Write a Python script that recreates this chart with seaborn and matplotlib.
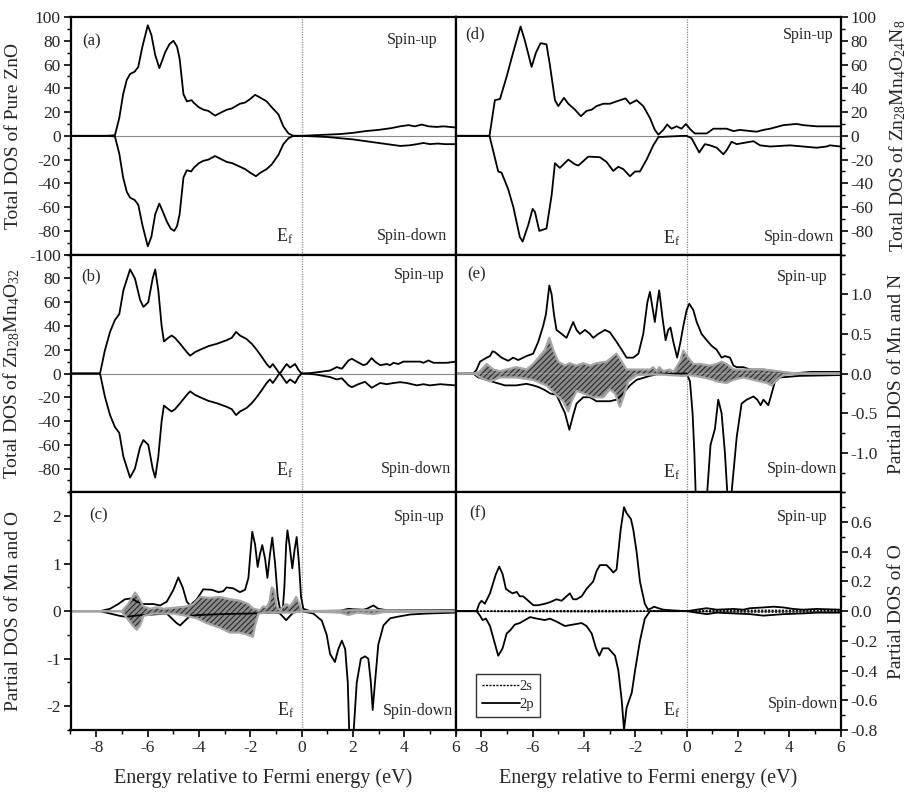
import numpy as np
import matplotlib
matplotlib.use("Agg")
import matplotlib.pyplot as plt
from matplotlib.ticker import MultipleLocator
from matplotlib.lines import Line2D
import seaborn as sns

# ---------------- data ----------------
# (a) Total DOS of pure ZnO
a_up_E = [-9, -7.6, -7.27, -7.1, -6.95, -6.81, -6.68, -6.5, -6.36, -6.2, -5.99, -5.85, -5.7, -5.54, -5.4, -5.32, -5.15, -4.99, -4.85, -4.75, -4.6, -4.47, -4.28, -4.21, -4.0, -3.82, -3.63, -3.37, -3.1, -2.91, -2.72, -2.4, -2.2, -2.0, -1.81, -1.68, -1.36, -1.16, -0.9, -0.71, -0.51, -0.32, 0, 0.5, 1.0, 1.5, 2.0, 2.5, 3.0, 3.5, 3.84, 4.16, 4.42, 4.68, 4.94, 5.27, 5.53, 6.0]
a_up = [0, 0, 0.5, 15, 35, 47, 52, 54, 58, 75, 93, 85, 68, 57, 65, 70, 77, 80, 75, 65, 35, 29, 30, 28, 24, 22, 21, 17, 20, 22, 23, 27, 28, 31, 34.5, 33, 29, 24, 18, 8, 2, 0, 0, 0.5, 1, 1.5, 2.5, 4, 5, 6.5, 8, 9, 8, 9.5, 8, 7.5, 8, 7]
a_dn_E = [-9, -7.6, -7.27, -7.1, -6.95, -6.81, -6.68, -6.5, -6.36, -6.2, -5.99, -5.85, -5.7, -5.54, -5.4, -5.25, -5.1, -4.96, -4.85, -4.75, -4.6, -4.47, -4.3, -4.2, -4.0, -3.82, -3.63, -3.37, -3.1, -2.91, -2.7, -2.4, -2.2, -2.0, -1.78, -1.6, -1.36, -1.16, -0.9, -0.71, -0.51, -0.32, 0, 0.5, 1.0, 1.5, 2.0, 2.5, 3.0, 3.5, 3.84, 4.2, 4.5, 4.75, 5.0, 5.3, 5.6, 6.0]
a_dn = [0, 0, -0.5, -15, -35, -47, -52, -54, -58, -75, -93, -85, -66, -57, -64, -72, -78, -80, -76, -66, -35, -29, -30, -27, -23, -21, -20, -17, -20, -22, -23, -26, -28, -31, -34, -31, -28, -24, -16, -7, -2, 0, 0, -0.5, -1, -2, -3, -4.5, -6, -7.5, -8.5, -8, -7, -6, -7, -6.5, -7, -7]

# (b) Total DOS of Zn28Mn4O32
b_up_E = [-9, -7.85, -7.66, -7.46, -7.27, -7.1, -6.94, -6.68, -6.49, -6.29, -6.16, -5.97, -5.8, -5.7, -5.58, -5.45, -5.36, -5.19, -5.06, -4.93, -4.73, -4.47, -4.34, -4.15, -3.95, -3.63, -3.3, -2.92, -2.72, -2.55, -2.4, -2.14, -1.94, -1.75, -1.55, -1.36, -1.23, -1.12, -0.99, -0.86, -0.84, -0.68, -0.58, -0.45, -0.25, -0.12, 0, 0.2, 0.59, 1.11, 1.37, 1.57, 1.83, 1.96, 2.15, 2.41, 2.54, 2.73, 2.86, 3.06, 3.32, 3.45, 3.58, 3.77, 3.97, 4.62, 4.75, 4.94, 5.14, 5.66, 6.0]
b_up = [0, 0, 19.5, 35, 45, 50, 70, 87.6, 80, 62, 56, 60, 80, 87.6, 70, 40, 27, 30, 32, 30, 25, 18, 15, 18, 20, 23, 25, 28, 30, 35, 32, 29, 25, 20, 14, 8, 5, 8, 4, 0, 0, 5, 8, 5, 8, 3, 0, 0, 1, 2.5, 5.4, 4, 11, 12.4, 10, 7, 8, 13, 10, 7, 8, 7, 9, 8, 10, 10, 9, 11, 9, 9, 10]
b_dn_E = [-9, -7.85, -7.66, -7.46, -7.27, -7.1, -6.94, -6.68, -6.49, -6.29, -6.16, -5.97, -5.8, -5.7, -5.58, -5.45, -5.36, -5.19, -5.06, -4.93, -4.73, -4.47, -4.34, -4.15, -3.95, -3.63, -3.3, -2.92, -2.72, -2.55, -2.4, -2.14, -1.94, -1.75, -1.55, -1.36, -1.23, -1.12, -0.99, -0.86, -0.84, -0.68, -0.58, -0.45, -0.25, -0.12, 0, 0.2, 0.59, 1.11, 1.37, 1.57, 1.83, 1.96, 2.21, 2.47, 2.73, 3.06, 3.32, 3.58, 3.84, 4.1, 4.49, 4.75, 5.0, 5.4, 6.0]
b_dn = [0, 0, -19.5, -35, -45, -50, -70, -87.6, -80, -62, -56, -60, -80, -87.6, -70, -40, -27, -30, -32, -30, -25, -18, -15, -18, -20, -23, -25, -28, -30, -35, -32, -29, -25, -20, -14, -8, -5, -8, -4, 0, 0, -5, -8, -5, -8, -3, 0, 0, -1, -3, -5, -4, -10, -11.5, -9, -7, -12, -8, -9, -8, -7.3, -8, -10, -9, -10, -9, -10]

# (c) Partial DOS of Mn and O
c_up_E = [-9, -7.85, -7.46, -7.14, -6.88, -6.62, -6.42, -6.16, -5.77, -5.51, -5.25, -4.99, -4.8, -4.63, -4.47, -4.34, -4.08, -3.83, -3.5, -3.24, -3.05, -2.92, -2.66, -2.4, -2.2, -2.07, -1.98, -1.92, -1.81, -1.71, -1.62, -1.53, -1.42, -1.33, -1.23, -1.14, -1.03, -0.93, -0.84, -0.73, -0.67, -0.6, -0.55, -0.47, -0.36, -0.27, -0.19, -0.1, -0.02, 0.07, 0.33, 1.5, 1.83, 2.0, 2.41, 2.54, 2.8, 2.99, 3.32, 6.0]
c_up = [0, 0, 0.05, 0.15, 0.25, 0.27, 0.2, 0.15, 0.15, 0.12, 0.2, 0.45, 0.71, 0.5, 0.2, 0.12, 0.25, 0.46, 0.45, 0.4, 0.42, 0.5, 0.48, 0.4, 0.45, 0.7, 1.3, 1.67, 1.4, 0.93, 1.2, 1.39, 1.1, 0.7, 1.2, 1.55, 1.0, 0.3, 0.05, 0.05, 0.5, 1.4, 1.7, 1.4, 0.9, 1.3, 1.56, 1.0, 0.3, 0.05, 0, 0.01, 0.05, 0.04, 0.03, 0.05, 0.12, 0.05, 0.02, 0.02]
c_dn_E = [-9, -7.85, -7.46, -7.07, -6.81, -6.55, -6.2, -5.77, -5.25, -4.87, -4.73, -4.54, -4.34, -4.0, -3.0, -2.0, -1.5, -1.0, -0.84, -0.6, -0.45, -0.32, 0.0, 0.46, 0.79, 0.98, 1.11, 1.3, 1.43, 1.57, 1.7, 1.8, 1.86, 2.02, 2.15, 2.31, 2.47, 2.6, 2.7, 2.77, 2.86, 2.99, 3.19, 3.45, 3.71, 4.23, 4.88, 6.0]
c_dn = [0, 0, -0.05, -0.1, -0.12, -0.1, -0.08, -0.07, -0.05, -0.25, -0.3, -0.2, -0.1, -0.08, -0.06, -0.05, -0.04, -0.03, -0.05, -0.19, -0.1, -0.03, 0, -0.05, -0.2, -0.5, -0.9, -1.07, -0.8, -0.62, -0.8, -1.5, -2.6, -2.6, -1.5, -1.0, -0.95, -1.0, -1.5, -2.08, -1.5, -0.7, -0.3, -0.15, -0.12, -0.07, -0.05, -0.03]
c_sh_up_E = [-9, -7.0, -6.75, -6.49, -6.36, -6.16, -5.9, -5.64, -5.38, -4.99, -4.47, -4.21, -3.95, -3.57, -3.18, -2.79, -2.4, -2.07, -1.88, -1.62, -1.49, -1.36, -1.25, -1.16, -1.07, -0.97, -0.84, -0.6, -0.47, -0.34, -0.21, -0.08, 0.0, 1.5, 2.0, 3.0, 6.0]
c_sh_up = [0, 0, 0.15, 0.39, 0.3, 0.1, 0.05, 0.08, 0.05, 0.07, 0.1, 0.15, 0.3, 0.28, 0.3, 0.25, 0.22, 0.15, 0.05, 0.02, 0.1, 0.08, 0.2, 0.5, 0.45, 0.1, 0.02, 0.15, 0.1, 0.18, 0.3, 0.15, 0.0, 0.01, 0.02, 0.02, 0.0]
c_sh_dn_E = [-9, -7.0, -6.94, -6.58, -6.42, -6.29, -6.16, -5.77, -4.99, -4.47, -4.08, -3.7, -3.18, -2.79, -2.4, -2.07, -1.9, -1.81, -1.68, -1.36, -0.32, 0.0, 1.5, 1.83, 2.15, 2.8, 3.19, 6.0]
c_sh_dn = [0, 0, -0.05, -0.3, -0.39, -0.3, -0.1, -0.05, -0.05, -0.1, -0.15, -0.25, -0.35, -0.45, -0.45, -0.5, -0.54, -0.3, -0.05, -0.03, -0.03, 0, -0.03, -0.08, -0.03, -0.06, -0.02, 0]

# (d) Total DOS of Zn28Mn4O24N8
d_up_E = [-9, -7.68, -7.47, -7.27, -7.01, -6.76, -6.47, -6.3, -6.04, -5.87, -5.69, -5.46, -5.33, -5.13, -5.0, -4.78, -4.61, -4.35, -4.12, -3.9, -3.7, -3.51, -3.25, -2.99, -2.73, -2.38, -2.21, -1.95, -1.69, -1.43, -1.24, -1.1, -0.91, -0.76, -0.59, -0.39, -0.2, -0.03, 0.16, 0.32, 0.78, 1.04, 1.56, 1.82, 2.08, 2.47, 2.73, 2.99, 3.25, 3.77, 4.28, 4.54, 5.06, 5.58, 6.0]
d_up = [0, 0, 30, 31, 50, 70, 92, 80, 58, 70, 78, 77, 60, 30, 25, 32, 27, 22, 16.5, 21, 22, 25, 27, 27, 29, 31.5, 27, 30, 25, 15, 5, 1, 5, 9.5, 6, 8, 6, 10, 5, 2, 2, 6, 6, 4, 5, 4, 3.5, 5, 6, 9, 10, 9, 8, 8, 8]
d_dn_E = [-9, -7.68, -7.34, -7.21, -6.95, -6.75, -6.5, -6.39, -6.17, -6.0, -5.91, -5.74, -5.46, -5.26, -5.13, -4.94, -4.61, -4.35, -4.22, -3.83, -3.38, -3.12, -2.86, -2.66, -2.47, -2.21, -2.01, -1.82, -1.56, -1.3, -1.1, -0.13, 0.0, 0.19, 0.49, 0.71, 0.91, 1.17, 1.43, 1.56, 1.75, 1.95, 2.21, 2.6, 2.86, 3.25, 4.02, 4.54, 5.06, 5.45, 5.58, 6.0]
d_dn = [0, 0, -30, -31, -45, -60, -85, -89, -75, -61.5, -64, -80, -78, -50, -23, -27, -20, -24, -25, -17.5, -18, -22, -29.5, -26, -28, -34, -30, -30, -20, -8, -1, 0, 0, -2, -14, -7, -8, -10, -15.5, -12, -5, -7, -6, -4.5, -8, -9, -8, -9, -10, -9, -8, -9]

# (e) Partial DOS of Mn and N
e_up_E = [-9, -8.31, -8.18, -8.05, -7.79, -7.66, -7.56, -7.47, -7.21, -6.95, -6.76, -6.56, -6.24, -5.98, -5.78, -5.59, -5.48, -5.35, -5.26, -5.17, -5.07, -4.87, -4.68, -4.55, -4.42, -4.29, -4.16, -3.96, -3.77, -3.64, -3.44, -3.18, -2.99, -2.73, -2.53, -2.34, -2.08, -1.88, -1.69, -1.53, -1.43, -1.34, -1.24, -1.14, -1.07, -0.94, -0.82, -0.72, -0.63, -0.52, -0.42, -0.37, -0.24, -0.13, 0.0, 0.1, 0.26, 0.39, 0.58, 0.78, 0.97, 1.17, 1.36, 1.49, 1.69, 1.82, 1.95, 2.21, 2.47, 2.99, 3.63, 4.15, 4.8, 6.0]
e_up = [0, 0, 0.05, 0.15, 0.2, 0.22, 0.28, 0.27, 0.2, 0.16, 0.2, 0.17, 0.22, 0.25, 0.4, 0.6, 0.75, 1.11, 1.0, 0.75, 0.55, 0.5, 0.45, 0.55, 0.65, 0.55, 0.5, 0.55, 0.5, 0.45, 0.5, 0.55, 0.52, 0.4, 0.3, 0.2, 0.2, 0.25, 0.5, 0.9, 1.03, 0.85, 0.65, 0.9, 1.05, 0.7, 0.42, 0.55, 0.58, 0.4, 0.27, 0.2, 0.4, 0.6, 0.8, 0.88, 0.8, 0.65, 0.5, 0.42, 0.35, 0.3, 0.2, 0.22, 0.2, 0.1, 0.08, 0.08, 0.05, 0.05, 0.02, 0.0, 0.02, 0.02]
e_dn_E = [-9, -8.31, -8.12, -7.79, -7.6, -7.08, -6.63, -6.24, -5.98, -5.78, -5.52, -5.33, -5.07, -4.74, -4.57, -4.44, -4.29, -4.03, -3.77, -3.51, -2.99, -2.73, -2.47, -2.21, -1.95, -1.43, -1.17, -0.13, 0.0, 0.13, 0.23, 0.3, 0.36, 0.42, 0.72, 0.8, 0.93, 1.1, 1.23, 1.36, 1.49, 1.6, 1.65, 1.72, 1.75, 1.95, 2.14, 2.34, 2.6, 2.75, 2.88, 2.99, 3.18, 3.27, 3.44, 3.64, 4.41, 6.0]
e_dn = [0, 0, -0.05, -0.08, -0.1, -0.15, -0.15, -0.13, -0.15, -0.17, -0.21, -0.25, -0.27, -0.5, -0.71, -0.55, -0.38, -0.3, -0.3, -0.35, -0.35, -0.33, -0.25, -0.15, -0.08, -0.03, -0.01, 0, 0, -0.1, -0.5, -1.0, -1.6, -2.0, -2.0, -1.5, -0.9, -0.7, -0.33, -0.5, -1.0, -1.6, -2.0, -1.6, -1.5, -0.8, -0.38, -0.33, -0.29, -0.33, -0.4, -0.33, -0.4, -0.3, -0.1, -0.05, -0.03, -0.02]
e_sh_up_E = [-9, -8.25, -8.05, -7.79, -7.53, -7.27, -6.63, -6.24, -5.98, -5.52, -5.35, -5.2, -5.0, -4.74, -4.55, -4.29, -4.03, -3.77, -3.51, -3.12, -2.73, -2.53, -2.34, -1.43, -1.3, -1.17, -1.07, -0.91, -0.65, -0.52, -0.26, -0.13, 0.06, 0.26, 0.52, 0.91, 1.17, 1.36, 1.56, 1.82, 2.08, 2.99, 3.76, 4.28, 6.0]
e_sh_up = [0, 0, 0.03, 0.12, 0.05, 0.03, 0.08, 0.05, 0.12, 0.3, 0.45, 0.3, 0.15, 0.1, 0.13, 0.1, 0.13, 0.1, 0.13, 0.15, 0.25, 0.15, 0.05, 0.05, 0.08, 0.03, 0.08, 0.03, 0.05, 0.02, 0.15, 0.29, 0.2, 0.12, 0.12, 0.1, 0.12, 0.15, 0.12, 0.05, 0.05, 0.05, 0.02, 0.0, 0.0]
e_sh_dn_E = [-9, -8.25, -8.05, -7.66, -7.27, -6.63, -5.98, -5.46, -4.81, -4.61, -4.48, -4.29, -4.03, -3.64, -3.25, -2.99, -2.79, -2.6, -2.47, -2.27, -1.95, -1.17, -0.13, 0.13, 0.65, 1.04, 1.17, 1.56, 1.82, 2.21, 2.6, 3.12, 3.31, 3.5, 3.76, 4.28, 6.0]
e_sh_dn = [0, 0, -0.05, -0.1, -0.05, -0.05, -0.08, -0.15, -0.35, -0.48, -0.35, -0.22, -0.25, -0.3, -0.3, -0.2, -0.25, -0.42, -0.3, -0.1, -0.02, -0.01, -0.03, -0.02, -0.05, -0.08, -0.1, -0.12, -0.08, -0.05, -0.08, -0.12, -0.15, -0.08, -0.02, 0, 0]

# (f) Partial DOS of O (2s, 2p)
f_2p_up_E = [-9, -8.18, -8.08, -7.99, -7.86, -7.66, -7.43, -7.3, -7.17, -7.04, -6.88, -6.78, -6.62, -6.5, -6.37, -6.17, -5.97, -5.78, -5.52, -5.33, -5.07, -4.87, -4.68, -4.55, -4.42, -4.29, -4.09, -3.9, -3.64, -3.51, -3.38, -3.12, -2.95, -2.86, -2.73, -2.66, -2.57, -2.44, -2.34, -2.17, -2.08, -1.95, -1.82, -1.63, -1.5, -1.37, -1.27, -1.1, -0.91, -0.52, 0.0, 0.39, 0.78, 1.17, 1.82, 2.21, 2.47, 2.99, 3.38, 3.77, 4.15, 4.54, 5.06, 6.0]
f_2p_up = [0, 0, 0.05, 0.07, 0.05, 0.12, 0.25, 0.3, 0.25, 0.15, 0.13, 0.12, 0.13, 0.1, 0.1, 0.07, 0.04, 0.04, 0.05, 0.06, 0.08, 0.07, 0.1, 0.12, 0.08, 0.08, 0.1, 0.15, 0.2, 0.27, 0.31, 0.31, 0.28, 0.26, 0.28, 0.4, 0.55, 0.7, 0.66, 0.62, 0.55, 0.4, 0.2, 0.05, 0.01, 0.02, 0.03, 0.02, 0.01, 0.005, 0.0, 0.01, 0.02, 0.01, 0.015, 0.01, 0.02, 0.025, 0.03, 0.025, 0.015, 0.01, 0.015, 0.01]
f_2p_dn_E = [-9, -8.18, -8.05, -7.95, -7.82, -7.66, -7.5, -7.34, -7.17, -7.01, -6.88, -6.69, -6.5, -6.3, -6.1, -5.84, -5.52, -5.33, -5.07, -4.74, -4.42, -4.09, -3.9, -3.7, -3.53, -3.4, -3.27, -3.05, -2.79, -2.66, -2.53, -2.44, -2.34, -2.14, -2.01, -1.82, -1.63, -1.43, 0.0, 0.39, 0.78, 1.17, 1.82, 2.47, 2.99, 3.38, 3.77, 4.54, 5.06, 6.0]
f_2p_dn = [0, 0, -0.03, -0.06, -0.05, -0.1, -0.2, -0.3, -0.25, -0.15, -0.13, -0.09, -0.08, -0.06, -0.04, -0.05, -0.06, -0.05, -0.07, -0.1, -0.09, -0.08, -0.1, -0.15, -0.25, -0.3, -0.25, -0.25, -0.3, -0.4, -0.6, -0.8, -0.65, -0.55, -0.4, -0.2, -0.05, 0.0, 0.0, -0.01, -0.02, -0.01, -0.015, -0.02, -0.03, -0.025, -0.02, -0.015, -0.01, -0.01]
f_2s_E = [-9, -8.2, -7.3, -5.0, -3.5, -2.4, -1.5, 0.0, 1.0, 3.0, 6.0]
f_2s_up = [0, 0, 0.002, 0.003, 0.004, 0.003, 0.0, 0.0, 0.005, 0.006, 0.005]
f_2s_dn = [0, 0, -0.002, -0.003, -0.004, -0.003, 0.0, 0.0, -0.005, -0.006, -0.005]

x_ticks = [-8, -6, -4, -2, 0, 2, 4, 6]
ylabels = {
    "a": "Total DOS of Pure ZnO",
    "b": r"Total DOS of Zn$_{28}$Mn$_4$O$_{32}$",
    "c": "Partial DOS of Mn and O",
    "d": r"Total DOS of Zn$_{28}$Mn$_4$O$_{24}$N$_8$",
    "e": "Partial DOS of Mn and N",
    "f": "Partial DOS of O",
}
legend_labels = ["2s", "2p"]

# ---------------- style ----------------
sns.set_style("ticks")
plt.rcParams["font.family"] = ["Liberation Serif", "DejaVu Serif"]
plt.rcParams["mathtext.fontset"] = "custom"
plt.rcParams["mathtext.rm"] = "Liberation Serif"
plt.rcParams["mathtext.it"] = "Liberation Serif:italic"
plt.rcParams["mathtext.bf"] = "Liberation Serif:bold"
plt.rcParams["hatch.linewidth"] = 0.8
plt.rcParams["axes.linewidth"] = 1.6

fig = plt.figure(figsize=(9.08, 7.92), dpi=100)
gs = fig.add_gridspec(3, 2, left=70.5 / 908, right=840.7 / 908, top=1 - 17 / 792,
                      bottom=1 - 730 / 792, wspace=0, hspace=0)
axes = {}
for i, k in enumerate("abc"):
    axes[k] = fig.add_subplot(gs[i, 0])
for i, k in enumerate("def"):
    axes[k] = fig.add_subplot(gs[i, 1])

LW = 1.3
def line(ax, x, y, **kw):
    kw.setdefault("color", "black")
    kw.setdefault("linewidth", LW)
    sns.lineplot(x=x, y=y, ax=ax, sort=False, estimator=None, **kw)

def shade(ax, x, y):
    ax.fill_between(x, 0, y, facecolor="#8a8a8a", edgecolor="#2a2a2a", hatch="//////",
                    linewidth=0, zorder=2)
    sns.lineplot(x=x, y=y, ax=ax, sort=False, estimator=None, color="#a6a6a6",
                 linewidth=1.6, zorder=2.5)

for k, ax in axes.items():
    ax.axhline(0, color="#8a8a8a", linewidth=0.8, zorder=1)
    ax.axvline(0, color="#8a8a8a", linewidth=0.9, linestyle=(0, (1, 1)), zorder=1)

line(axes["a"], a_up_E, a_up)
line(axes["a"], a_dn_E, a_dn)
line(axes["b"], b_up_E, b_up)
line(axes["b"], b_dn_E, b_dn)
shade(axes["c"], c_sh_up_E, c_sh_up)
shade(axes["c"], c_sh_dn_E, c_sh_dn)
line(axes["c"], c_up_E, c_up)
line(axes["c"], c_dn_E, c_dn)
line(axes["d"], d_up_E, d_up)
line(axes["d"], d_dn_E, d_dn)
shade(axes["e"], e_sh_up_E, e_sh_up)
shade(axes["e"], e_sh_dn_E, e_sh_dn)
line(axes["e"], e_up_E, e_up)
line(axes["e"], e_dn_E, e_dn)
line(axes["f"], f_2s_E, f_2s_up, linestyle=(0, (1.5, 1.0)), linewidth=1.0)
line(axes["f"], f_2s_E, f_2s_dn, linestyle=(0, (1.5, 1.0)), linewidth=1.0)
line(axes["f"], f_2p_up_E, f_2p_up)
line(axes["f"], f_2p_dn_E, f_2p_dn)

ylims = {"a": (-100, 100), "b": (-100, 100), "c": (-2.5, 2.5),
         "d": (-100, 100), "e": (-1.5, 1.5), "f": (-0.8, 0.8)}
major = {"a": list(range(-100, 101, 20)), "b": list(range(-80, 81, 20)),
         "c": [-2, -1, 0, 1, 2], "d": list(range(-80, 101, 20)),
         "e": [-1.0, -0.5, 0.0, 0.5, 1.0],
         "f": [-0.8, -0.6, -0.4, -0.2, 0.0, 0.2, 0.4, 0.6]}
minor = {"a": 10, "b": 10, "c": 0.5, "d": 10, "e": 0.25, "f": 0.1}
fmt = {"a": "{:.0f}", "b": "{:.0f}", "c": "{:.0f}", "d": "{:.0f}", "e": "{:.1f}", "f": "{:.1f}"}

for k, ax in axes.items():
    ax.set_xlim(-9, 6)
    ax.set_ylim(*ylims[k])
    ax.set_xticks(x_ticks)
    ax.xaxis.set_minor_locator(MultipleLocator(1))
    ax.set_yticks(major[k])
    ax.set_yticklabels([fmt[k].format(v) for v in major[k]])
    ax.yaxis.set_minor_locator(MultipleLocator(minor[k]))
    ax.tick_params(which="major", direction="out", length=5, width=1.2, labelsize=12.5,
                   pad=2, color="black")
    ax.tick_params(which="minor", direction="out", length=3, width=1.0, color="black")
    for s in ax.spines.values():
        s.set_linewidth(1.6)
        s.set_color("black")
    ax.set_xlabel("")
    ax.set_ylabel(ylabels[k], fontsize=14)
    if k in "def":
        ax.yaxis.tick_right()
        ax.yaxis.set_label_position("right")
        ax.yaxis.set_label_coords(1.122, 0.5)
    else:
        ax.yaxis.set_label_coords(-0.125, 0.5)
    if k in "cf":
        ax.set_xticklabels([str(v) for v in x_ticks])
        ax.set_xlabel("Energy relative to Fermi energy (eV)", fontsize=14.5, labelpad=9)
    else:
        ax.tick_params(labelbottom=False)

panel_pos = {"a": (0.055, 0.896), "b": (0.053, 0.907), "c": (0.072, 0.905),
             "d": (0.050, 0.928), "e": (0.055, 0.918), "f": (0.058, 0.911)}
up_pos = {"a": (0.888, 0.903), "b": (0.906, 0.914), "c": (0.906, 0.897),
          "d": (0.916, 0.924), "e": (0.900, 0.906), "f": (0.900, 0.897)}
dn_pos = {"a": (0.886, 0.077), "b": (0.896, 0.100), "c": (0.903, 0.081),
          "d": (0.892, 0.073), "e": (0.899, 0.100), "f": (0.903, 0.109)}
ef_pos = {"a": (-0.64, 0.076), "b": (-0.64, 0.094), "c": (-0.62, 0.084),
          "d": (-0.57, 0.069), "e": (-0.57, 0.087), "f": (-0.57, 0.084)}
for k, ax in axes.items():
    ax.text(*panel_pos[k], f"({k})", transform=ax.transAxes, ha="center", va="center", fontsize=12)
    ax.text(*up_pos[k], "Spin-up", transform=ax.transAxes, ha="center", va="center", fontsize=11.5)
    ax.text(*dn_pos[k], "Spin-down", transform=ax.transAxes, ha="center", va="center", fontsize=11.5)
    ax.text(*ef_pos[k], r"E$_\mathrm{f}$", transform=ax.get_xaxis_transform(),
            ha="center", va="center", fontsize=13)

handles = [Line2D([], [], color="black", linewidth=1.0, linestyle=(0, (1.5, 1.0))),
           Line2D([], [], color="black", linewidth=1.3)]
leg = axes["f"].legend(handles, legend_labels, loc="lower left", bbox_to_anchor=(0.053, 0.055),
                       borderaxespad=0, fontsize=10.5, handlelength=2.6, handletextpad=0.0,
                       labelspacing=0.35, fancybox=False, framealpha=1, edgecolor="#333333",
                       borderpad=0.4)
leg.get_frame().set_linewidth(1.0)

fig.savefig("out.png", dpi=100)
